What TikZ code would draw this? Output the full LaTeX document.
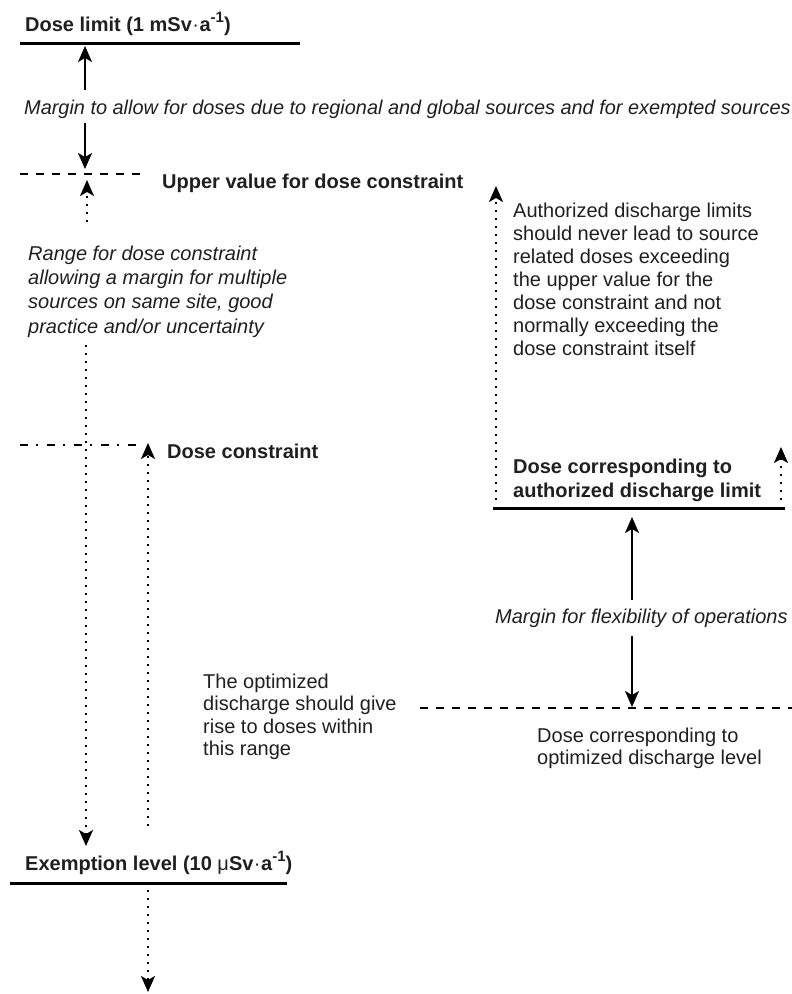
\documentclass[tikz,border=0pt]{standalone}
\usepackage{fontspec}
\setmainfont{Liberation Sans}
\usetikzlibrary{arrows.meta}
\newcommand{\perannum}{\kern0.5pt{\mdseries·}\kern0.5pt a\raisebox{0.42em}{\fontsize{15}{15}\selectfont -1}}
\begin{document}
\begin{tikzpicture}[x=1pt,y=-1pt,
  txt/.style={inner sep=0pt, anchor=base west, text=black!88, font=\fontsize{20}{23}\selectfont},
  blk/.style={inner sep=0pt, anchor=north west, align=left, text=black!88, font=\fontsize{20}{#1}\selectfont},
  level/.style={line width=3pt},
  dashlevel/.style={line width=1.2pt, dash pattern=on 8pt off 8pt},
  dashdotlevel/.style={line width=1.2pt, dash pattern=on 8pt off 8pt on 2pt off 9pt},
  solidarrow/.style={line width=1.7pt, -{Stealth[length=16pt,width=14pt,inset=4pt]}},
  dotarrow/.style={line width=1.9pt, dash pattern=on 1.9pt off 6.1pt, -{Stealth[length=16pt,width=14pt,inset=4pt]}}
]
\useasboundingbox (0,0) rectangle (792,994);

% ---- reference levels ----
\coordinate (limA) at (20,43);   \coordinate (limB) at (300,43);
\coordinate (uppA) at (20,174);  \coordinate (uppB) at (147,174);
\coordinate (conA) at (20,445);  \coordinate (conB) at (140,445);
\coordinate (adlA) at (493,508); \coordinate (adlB) at (785,508);
\coordinate (optA) at (420,708); \coordinate (optB) at (792,708);
\coordinate (exA)  at (10,883);  \coordinate (exB)  at (287,883);

\draw[level] (limA) -- (limB);
\draw[dashlevel] (uppA) -- (uppB);
\draw[dashdotlevel] (conA) -- (conB);
\draw[level] (adlA) -- (adlB);
\draw[dashlevel] (optA) -- (optB);
\draw[level] (exA) -- (exB);

% ---- labels ----
\node[txt, font=\fontsize{20}{23}\selectfont\bfseries] (doselimit) at (25,31)
  {Dose limit (1 mSv\perannum)};
\node[txt, font=\fontsize{19.9}{23}\selectfont\itshape] (margin1) at (24,114)
  {Margin to allow for doses due to regional and global sources and for exempted sources};
\node[txt, font=\fontsize{20}{23}\selectfont\bfseries] (upper) at (162,188)
  {Upper value for dose constraint};
\node[blk=24.3, font=\fontsize{20}{24.3}\selectfont\itshape] (range) at (28,245.5)
  {Range for dose constraint\\allowing a margin for multiple\\sources on same site, good\\practice and/or uncertainty};
\node[txt, font=\fontsize{20}{23}\selectfont\bfseries] (constraint) at (167,458)
  {Dose constraint};
\node[blk=23] (authtext) at (513,202.5)
  {Authorized discharge limits\\should never lead to source\\related doses exceeding\\the upper value for the\\dose constraint and not\\normally exceeding the\\dose constraint itself};
\node[blk=24, font=\fontsize{20}{24}\selectfont\bfseries] (adltext) at (513,458.5)
  {Dose corresponding to\\authorized discharge limit};
\node[txt, font=\fontsize{20}{23}\selectfont\itshape] (margin2) at (495,623)
  {Margin for flexibility of operations};
\node[blk=22.5] (opttext) at (203,673.5)
  {The optimized\\discharge should give\\rise to doses within\\this range};
\node[blk=22] (optlevel) at (537,727.5)
  {Dose corresponding to\\optimized discharge level};
\node[txt, font=\fontsize{20}{23}\selectfont\bfseries] (exemption) at (25,870)
  {Exemption level (10 {\mdseries μ}Sv\perannum)};

% ---- arrow end points ----
\coordinate (m1s) at (85,90);   \coordinate (m1e) at (85,46);
\coordinate (m2s) at (85,123);  \coordinate (m2e) at (85,169);
\coordinate (r1s) at (87,222);  \coordinate (r1e) at (87,180);
\coordinate (r2s) at (86,345);  \coordinate (r2e) at (86,846);
\coordinate (o1s) at (148,826); \coordinate (o1e) at (148,443);
\coordinate (a1s) at (496,500); \coordinate (a1e) at (496,186);
\coordinate (a2s) at (781,500); \coordinate (a2e) at (781,447);
\coordinate (f1s) at (632,600); \coordinate (f1e) at (632,517);
\coordinate (f2s) at (632,636); \coordinate (f2e) at (632,707);
\coordinate (x1s) at (148,890); \coordinate (x1e) at (148,992);

% ---- arrows ----
\draw[solidarrow] (m1s) -- (m1e);
\draw[solidarrow] (m2s) -- (m2e);
\draw[dotarrow] (r1s) -- (r1e);
\draw[dotarrow] (r2s) -- (r2e);
\draw[dotarrow] (o1s) -- (o1e);
\draw[dotarrow] (a1s) -- (a1e);
\draw[dotarrow] (a2s) -- (a2e);
\draw[solidarrow] (f1s) -- (f1e);
\draw[solidarrow] (f2s) -- (f2e);
\draw[dotarrow] (x1s) -- (x1e);
\end{tikzpicture}
\end{document}
